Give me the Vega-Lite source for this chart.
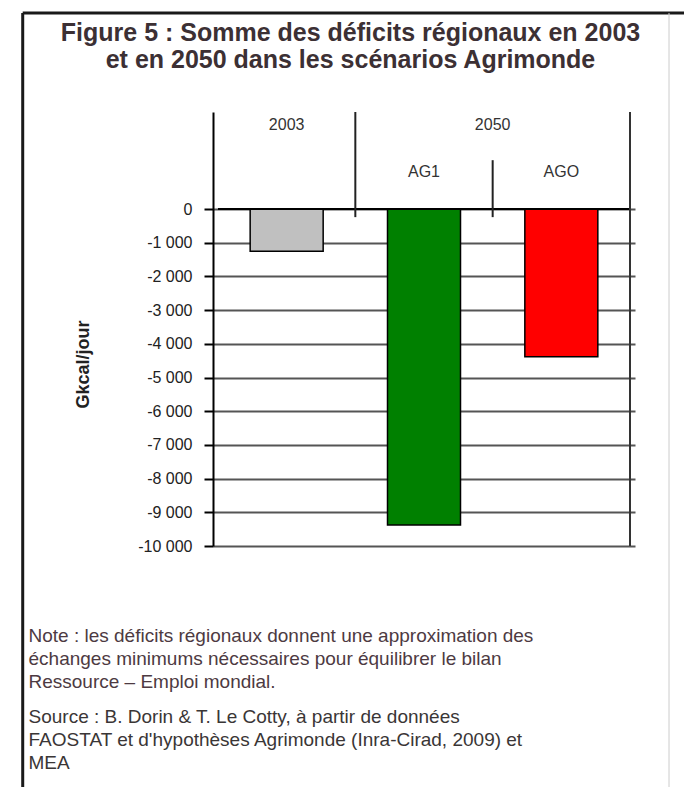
{
  "$schema": "https://vega.github.io/schema/vega-lite/v6.json",
  "width": 422,
  "height": 434,
  "autosize": {"type": "none"},
  "padding": {"left": 213, "top": 112, "right": 49, "bottom": 241},
  "background": "white",
  "config": {"view": {"stroke": null}, "font": "Liberation Sans"},
  "resolve": {"axis": {"x": "independent"}},
  "datasets": {
    "bars": [
      {"year": "2003", "scenario": "2003", "idx": 1, "value": -1250},
      {"year": "2050", "scenario": "AG1", "idx": 2, "value": -9375},
      {"year": "2050", "scenario": "AGO", "idx": 3, "value": -4380}
    ]
  },
  "layer": [
    {
      "data": {"name": "bars"},
      "mark": {"type": "bar", "width": 73, "stroke": "black", "strokeWidth": 1.5},
      "encoding": {
        "x": {
          "field": "idx",
          "type": "quantitative",
          "scale": {"domain": [0.5, 3.5], "nice": false, "zero": false},
          "axis": {
            "orient": "top",
            "labels": false,
            "ticks": false,
            "domain": false,
            "grid": false,
            "title": [
              "Figure 5 : Somme des déficits régionaux en 2003",
              "et en 2050 dans les scénarios Agrimonde"
            ],
            "titleX": 137,
            "titleY": -80,
            "titleAlign": "center",
            "titleAnchor": null,
            "titleBaseline": "middle",
            "titleFont": "Liberation Sans",
            "titleFontSize": 25,
            "titleFontWeight": "bold",
            "titleColor": "#3c3034",
            "titleLineHeight": 27
          }
        },
        "y": {
          "field": "value",
          "type": "quantitative",
          "scale": {"domain": [-10000, 2880], "nice": false, "zero": false},
          "axis": {
            "values": [0, -1000, -2000, -3000, -4000, -5000, -6000, -7000, -8000, -9000, -10000],
            "grid": true,
            "gridColor": "#555555",
            "gridWidth": 2,
            "domainColor": "black",
            "domainWidth": 2,
            "tickColor": "black",
            "tickWidth": 2,
            "tickSize": 9,
            "labelFont": "Liberation Sans",
            "labelFontSize": 16,
            "labelColor": "#222222",
            "labelPadding": 12,
            "labelExpr": "(datum.value < 0 ? '-' : '') + replace(format(abs(datum.value), ',d'), ',', ' ')",
            "title": "Gkcal/jour",
            "titleFont": "Liberation Sans",
            "titleFontSize": 18,
            "titleFontWeight": "bold",
            "titleColor": "#222222",
            "titleAngle": 270,
            "titleX": -130,
            "titleY": 252,
            "titleAlign": "center",
            "titleBaseline": "middle"
          }
        },
        "color": {
          "field": "scenario",
          "type": "nominal",
          "scale": {"domain": ["2003", "AG1", "AGO"], "range": ["#c0c0c0", "#008000", "#ff0000"]},
          "legend": null
        }
      }
    },
    {
      "data": {"values": [{}]},
      "mark": {"type": "rule", "color": "black", "strokeWidth": 2},
      "encoding": {
        "x": {
          "datum": 0.5,
          "type": "quantitative",
          "axis": {
            "orient": "bottom",
            "labels": false,
            "ticks": false,
            "domain": false,
            "grid": false,
            "title": [
              "Note : les déficits régionaux donnent une approximation des",
              "échanges minimums nécessaires pour équilibrer le bilan",
              "Ressource – Emploi mondial."
            ],
            "titleX": -185,
            "titleY": 80,
            "titleAlign": "left",
            "titleAnchor": null,
            "titleBaseline": "top",
            "titleFont": "Liberation Sans",
            "titleFontSize": 19,
            "titleFontWeight": "normal",
            "titleColor": "#4d3a42",
            "titleLineHeight": 23
          }
        },
        "x2": {"datum": 3.5},
        "y": {"datum": 0, "type": "quantitative"}
      }
    },
    {
      "data": {"values": [{}]},
      "mark": {"type": "rule", "color": "#333333", "strokeWidth": 2},
      "encoding": {
        "x": {
          "datum": 3.5,
          "type": "quantitative",
          "axis": {
            "orient": "bottom",
            "labels": false,
            "ticks": false,
            "domain": false,
            "grid": false,
            "title": [
              "Source : B. Dorin & T. Le Cotty, à partir de données",
              "FAOSTAT et d'hypothèses Agrimonde (Inra-Cirad, 2009) et",
              "MEA"
            ],
            "titleX": -185,
            "titleY": 161,
            "titleAlign": "left",
            "titleAnchor": null,
            "titleBaseline": "top",
            "titleFont": "Liberation Sans",
            "titleFontSize": 19,
            "titleFontWeight": "normal",
            "titleColor": "#3a3636",
            "titleLineHeight": 23
          }
        },
        "y": {"datum": 2880, "type": "quantitative"},
        "y2": {"datum": -10000}
      }
    },
    {
      "data": {"values": [{}]},
      "mark": {"type": "rule", "color": "#222222", "strokeWidth": 2},
      "encoding": {
        "x": {"datum": 1.5, "type": "quantitative", "axis": null},
        "y": {"datum": 2880, "type": "quantitative"},
        "y2": {"datum": -240}
      }
    },
    {
      "data": {"values": [{}]},
      "mark": {"type": "rule", "color": "#222222", "strokeWidth": 2},
      "encoding": {
        "x": {"datum": 2.5, "type": "quantitative", "axis": null},
        "y": {"datum": 1450, "type": "quantitative"},
        "y2": {"datum": -240}
      }
    },
    {
      "data": {"values": [{}]},
      "mark": {"type": "rule", "color": "#1a1a1a", "strokeWidth": 3},
      "encoding": {
        "x": {"datum": -0.922, "type": "quantitative", "axis": null},
        "y": {"datum": 5820, "type": "quantitative"},
        "y2": {"datum": -17600}
      }
    },
    {
      "data": {"values": [{}]},
      "mark": {"type": "rule", "color": "#1a1a1a", "strokeWidth": 3},
      "encoding": {
        "x": {"datum": -0.922, "type": "quantitative", "axis": null},
        "x2": {"datum": 4.0},
        "y": {"datum": 5820, "type": "quantitative"}
      }
    },
    {
      "data": {"values": [{}]},
      "mark": {"type": "rule", "color": "#cccccc", "strokeWidth": 1},
      "encoding": {
        "x": {"datum": 3.784, "type": "quantitative", "axis": null},
        "y": {"datum": 5820, "type": "quantitative"},
        "y2": {"datum": -17600}
      }
    },
    {
      "data": {"name": "bars"},
      "transform": [{"filter": "datum.year == '2050'"}],
      "mark": {"type": "text", "font": "Liberation Sans", "fontSize": 16, "color": "#333333", "baseline": "middle"},
      "encoding": {
        "x": {"field": "idx", "type": "quantitative", "axis": null},
        "y": {"datum": 1100, "type": "quantitative"},
        "text": {"field": "scenario"}
      }
    },
    {
      "data": {"name": "bars"},
      "transform": [{"aggregate": [{"op": "mean", "field": "idx", "as": "mid"}], "groupby": ["year"]}],
      "mark": {"type": "text", "font": "Liberation Sans", "fontSize": 16, "color": "#333333", "baseline": "middle"},
      "encoding": {
        "x": {"field": "mid", "type": "quantitative", "axis": null},
        "y": {"datum": 2490, "type": "quantitative"},
        "text": {"field": "year"}
      }
    }
  ]
}
